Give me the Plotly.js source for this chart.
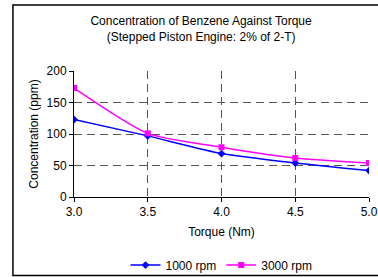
<!DOCTYPE html>
<html><head><meta charset="utf-8">
<script src="https://cdn.plot.ly/plotly-3.0.1.min.js"></script>
<style>body{margin:0;padding:0;background:#fff}#chart{width:378px;height:277px}</style>
</head><body><div id="chart"></div>
<script>
var torque = [3.0, 3.5, 4.0, 4.5, 5.0];
var rpm1000 = [123, 97, 69, 54, 42];
var rpm3000 = [173, 101, 79, 62, 54];
var xTicks = [3.0, 3.5, 4.0, 4.5, 5.0];
var xTickText = ['3.0', '3.5', '4.0', '4.5', '5.0'];
var yTicks = [0, 50, 100, 150, 200];

var font = {family: 'Liberation Sans, Arial, sans-serif', size: 12, color: '#000'};
var traces = [
  {x: torque, y: rpm1000, name: '1000 rpm', mode: 'lines+markers', type: 'scatter',
   line: {color: '#0000FF', width: 1.5, shape: 'spline', smoothing: 0.6},
   marker: {symbol: 'diamond', size: 6, color: '#0000FF'}},
  {x: torque, y: rpm3000, name: '3000 rpm', mode: 'lines+markers', type: 'scatter',
   line: {color: '#FF00FF', width: 1.5, shape: 'spline', smoothing: 0.6},
   marker: {symbol: 'square', size: 6, color: '#FF00FF'}}
];
var layout = {
  width: 378, height: 277,
  margin: {l: 74, r: 9, t: 71, b: 80, autoexpand: false},
  paper_bgcolor: '#fff', plot_bgcolor: '#fff',
  font: font,
  showlegend: true,
  title: {text: 'Concentration of Benzene Against Torque<br>(Stepped Piston Engine: 2% of 2-T)',
          font: {family: font.family, size: 12, color: '#000'},
          x: 0.532, xanchor: 'center', y: 0.908, yanchor: 'top'},
  xaxis: {range: [3.0, 5.0], tickvals: xTicks, ticktext: xTickText, automargin: false,
          showline: true, linecolor: '#000', linewidth: 1,
          ticks: 'outside', ticklen: 4, tickcolor: '#000',
          showgrid: true, gridcolor: '#555', gridwidth: 1, griddash: '8px,5px',
          zeroline: false, tickfont: font,
          title: {text: 'Torque (Nm)', font: font, standoff: 9}},
  yaxis: {range: [0, 200], tickvals: yTicks, automargin: false,
          showline: true, linecolor: '#000', linewidth: 1,
          ticks: 'outside', ticklen: 4, tickcolor: '#000',
          showgrid: true, gridcolor: '#555', gridwidth: 1, griddash: '8px,5px',
          zeroline: false, tickfont: font,
          title: {text: 'Concentration (ppm)', font: font, standoff: 5}},
  legend: {orientation: 'h', x: 0.5, xanchor: 'center', yref: 'container', y: 0.043, yanchor: 'middle',
           itemwidth: 30, font: font, bgcolor: 'rgba(0,0,0,0)'},
  shapes: [{type: 'rect', xref: 'paper', yref: 'paper',
            x0: -0.207, x1: 1.05, y0: -0.623, y1: 1.524,
            line: {color: '#000', width: 1.5}, fillcolor: 'rgba(0,0,0,0)', layer: 'below'}]
};
Plotly.newPlot('chart', traces, layout, {staticPlot: true, displayModeBar: false});
</script></body></html>
